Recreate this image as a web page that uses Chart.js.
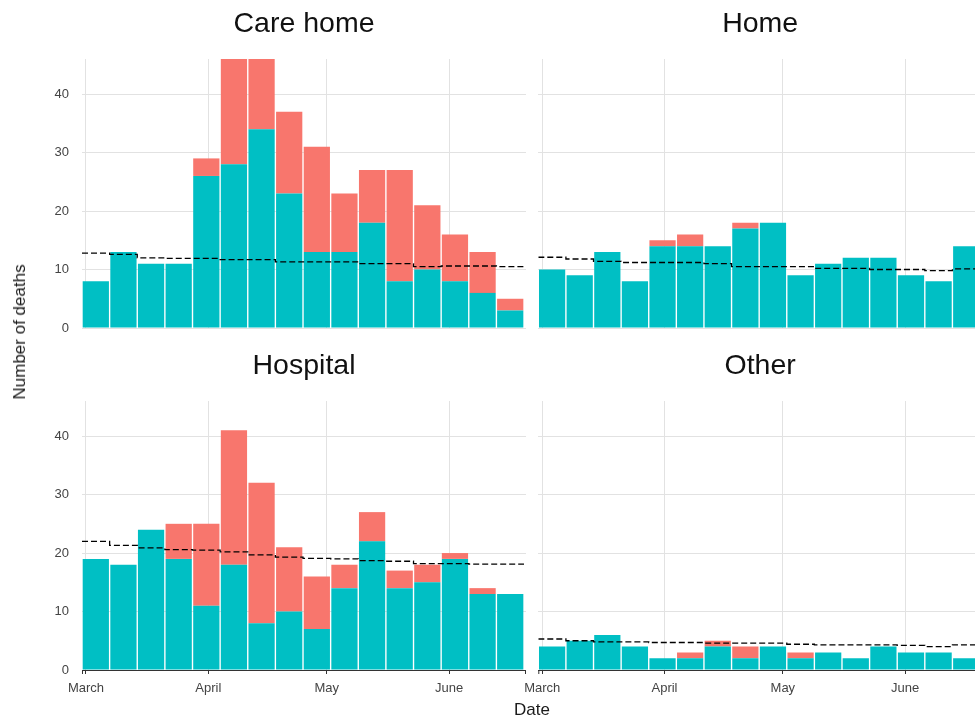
<!DOCTYPE html>
<html>
<head>
<meta charset="utf-8">
<title>Weekly deaths by place of death</title>
<script src="https://cdn.jsdelivr.net/npm/chart.js@4.4.1/dist/chart.umd.min.js"></script>
<style>
  html, body { margin: 0; padding: 0; background: #fff; width: 975px; height: 719px; overflow: hidden; }
  .panel { position: absolute; }
  .axis-title {
    position: absolute;
    font-family: "Liberation Sans", Arial, Helvetica, sans-serif;
    font-size: 17px;
    color: #1a1a1a;
    white-space: nowrap;
  }
</style>
</head>
<body>
<div class="panel" style="left:0px;top:0px"><canvas id="care" width="526" height="340"></canvas></div>
<div class="panel" style="left:510px;top:0px"><canvas id="home" width="472" height="340"></canvas></div>
<div class="panel" style="left:0px;top:342px"><canvas id="hospital" width="526" height="358"></canvas></div>
<div class="panel" style="left:510px;top:342px"><canvas id="other" width="472" height="358"></canvas></div>
<div class="axis-title" style="left:20px;top:332px;transform:translate(-50%,-50%) rotate(-90deg)">Number of deaths</div>
<div class="axis-title" style="left:532px;top:710px;transform:translate(-50%,-50%)">Date</div>

<script>
// Week-ending dates (Fridays) for the weekly registration counts
const weeks = ['2020-03-06', '2020-03-13', '2020-03-20', '2020-03-27',
               '2020-04-03', '2020-04-10', '2020-04-17', '2020-04-24',
               '2020-05-01', '2020-05-08', '2020-05-15', '2020-05-22',
               '2020-05-29', '2020-06-05', '2020-06-12', '2020-06-19'];

// Month gridlines and their labels
const monthStarts = ['2020-03-01', '2020-04-01', '2020-05-01', '2020-06-01'];
const monthLabels = ['March', 'April', 'May', 'June'];

// Value axis
const yTicks = [0, 10, 20, 30, 40];
const yMax = 46;

// Care home
const careOther    = [8, 13, 11, 11, 26, 28, 34, 23, 13, 13, 18, 8, 10, 8, 6, 3];
const careCovid    = [0, 0, 0, 0, 3, 18, 12, 14, 18, 10, 9, 19, 11, 8, 7, 2];
const careExpected = [12.8, 12.6, 12.0, 11.9, 11.9, 11.7, 11.7, 11.3, 11.3, 11.3, 11.0, 11.0, 10.5, 10.6, 10.6, 10.5];

// Home
const homeOther    = [10, 9, 13, 8, 14, 14, 14, 17, 18, 9, 11, 12, 12, 9, 8, 14];
const homeCovid    = [0, 0, 0, 0, 1, 2, 0, 1, 0, 0, 0, 0, 0, 0, 0, 0];
const homeExpected = [12.1, 11.8, 11.4, 11.2, 11.2, 11.2, 11.0, 10.5, 10.5, 10.5, 10.2, 10.2, 10.0, 10.0, 9.8, 10.1];

// Hospital
const hospOther    = [19, 18, 24, 19, 11, 18, 8, 10, 7, 14, 22, 14, 15, 19, 13, 13];
const hospCovid    = [0, 0, 0, 6, 14, 23, 24, 11, 9, 4, 5, 3, 3, 1, 1, 0];
const hospExpected = [22.0, 21.3, 20.9, 20.6, 20.5, 20.2, 19.7, 19.3, 19.1, 19.0, 18.7, 18.6, 18.2, 18.2, 18.1, 18.1];

// Other places
const otherOther    = [4, 5, 6, 4, 2, 2, 4, 2, 4, 2, 3, 2, 4, 3, 3, 2];
const otherCovid    = [0, 0, 0, 0, 0, 1, 1, 2, 0, 1, 0, 0, 0, 0, 0, 0];
const otherExpected = [5.3, 5.0, 4.8, 4.8, 4.7, 4.7, 4.6, 4.6, 4.6, 4.4, 4.3, 4.3, 4.3, 4.2, 4.0, 4.3];

const TEAL = '#00BFC4';
const RED = '#F8766D';
const GRID = '#e2e2e2';
const TICK_TEXT = '#444444';

Chart.defaults.font.family = '"Liberation Sans", Arial, Helvetica, sans-serif';

// Dates are placed on a day axis counted from 1 March 2020
const DAY = 86400000;
const ORIGIN = Date.UTC(2020, 2, 1);
function dayOf(s) {
  const [y, m, d] = s.split('-').map(Number);
  return (Date.UTC(y, m - 1, d) - ORIGIN) / DAY;
}
const weekEnd = weeks.map(dayOf);
const weekStart = weekEnd.map(d => d - 6);
const barCentre = weekEnd.map(d => d - 2.5);
const monthDays = monthStarts.map(dayOf);
const xMin = weekStart[0];
const xMax = weekEnd[weekEnd.length - 1] + 1.5;

// Small end ticks on the date axis
const axisEndTicks = {
  id: 'axisEndTicks',
  afterDraw(chart, args, opts) {
    if (!opts.show) return;
    const { ctx, chartArea: a } = chart;
    ctx.save();
    ctx.strokeStyle = '#333';
    ctx.lineWidth = 1;
    ctx.beginPath();
    [a.left + 0.5, a.right - 0.5].forEach(x => {
      ctx.moveTo(x, a.bottom);
      ctx.lineTo(x, a.bottom + 4);
    });
    ctx.stroke();
    ctx.restore();
  }
};

// showY: value labels on the left; showX: month labels underneath
function makePanel(id, title, other, covid, expected, showY, showX) {
  const last = expected.length - 1;
  const stepLine = weekStart.map((x, i) => ({ x, y: expected[i] }))
    .concat([{ x: weekEnd[last] + 1, y: expected[last] }]);

  new Chart(document.getElementById(id), {
    type: 'bar',
    data: {
      datasets: [
        {
          type: 'line',
          label: 'Expected',
          data: stepLine,
          stepped: true,
          borderColor: '#000',
          borderWidth: 1.3,
          borderDash: [6, 3],
          pointRadius: 0,
          fill: false,
          yAxisID: 'yE',
          order: 0
        },
        {
          label: 'Other causes',
          data: barCentre.map((x, i) => ({ x, y: other[i] })),
          backgroundColor: TEAL,
          barPercentage: 0.95,
          categoryPercentage: 1,
          order: 1
        },
        {
          label: 'COVID-19',
          data: barCentre.map((x, i) => ({ x, y: covid[i] })),
          backgroundColor: RED,
          barPercentage: 0.95,
          categoryPercentage: 1,
          order: 1
        }
      ]
    },
    options: {
      responsive: false,
      animation: false,
      events: [],
      layout: { padding: 0 },
      scales: {
        x: {
          type: 'linear',
          min: xMin,
          max: xMax,
          stacked: true,
          offset: false,
          afterBuildTicks: s => { s.ticks = monthDays.map(v => ({ value: v })); },
          afterFit: s => {
            s.height = showX ? 30 : 12;
            s.paddingLeft = 0; s.paddingRight = 0; s.paddingTop = 0; s.paddingBottom = 0;
          },
          grid: { offset: false, color: GRID, lineWidth: 1, drawTicks: showX, tickLength: 4, tickColor: '#333' },
          border: { display: showX, color: '#333', width: 1 },
          ticks: {
            display: showX,
            autoSkip: false,
            maxRotation: 0,
            padding: 7,
            color: TICK_TEXT,
            font: { size: 13 },
            callback: (v, i) => monthLabels[i]
          }
        },
        y: {
          stacked: true,
          min: 0,
          max: yMax,
          afterBuildTicks: s => { s.ticks = yTicks.map(v => ({ value: v })); },
          afterFit: s => {
            s.width = showY ? 82 : 28.3;
            s.paddingLeft = 0; s.paddingRight = 0; s.paddingTop = 0; s.paddingBottom = 0;
          },
          grid: { color: GRID, lineWidth: 1, drawTicks: false },
          border: { display: false },
          ticks: { display: showY, padding: 13, color: TICK_TEXT, font: { size: 13 } }
        },
        yE: { display: false, min: 0, max: yMax }
      },
      plugins: {
        legend: { display: false },
        tooltip: { enabled: false },
        axisEndTicks: { show: showX },
        title: {
          display: true,
          text: title,
          fullSize: false,
          color: '#111',
          font: { size: 28.5, weight: 'normal' },
          padding: { top: 7, bottom: 17.8 }
        }
      }
    },
    plugins: [axisEndTicks]
  });
}

makePanel('care', 'Care home', careOther, careCovid, careExpected, true, false);
makePanel('home', 'Home', homeOther, homeCovid, homeExpected, false, false);
makePanel('hospital', 'Hospital', hospOther, hospCovid, hospExpected, true, true);
makePanel('other', 'Other', otherOther, otherCovid, otherExpected, false, true);
</script>
</body>
</html>
